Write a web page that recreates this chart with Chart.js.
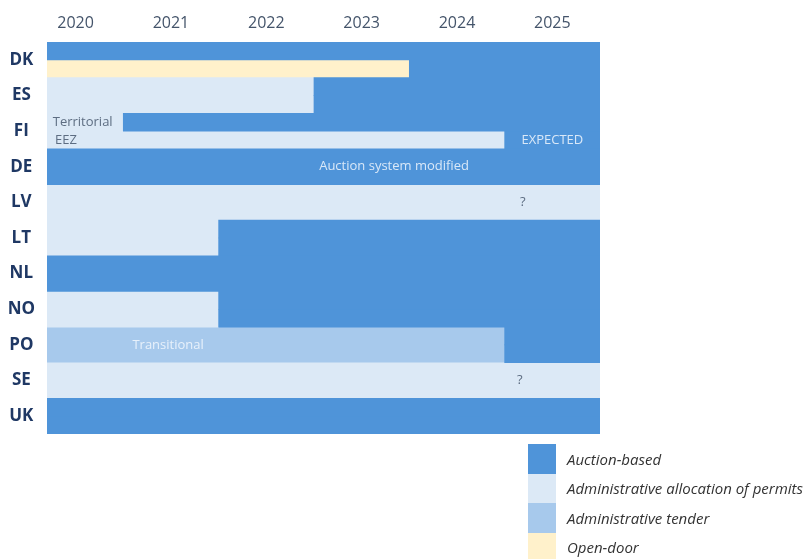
<!DOCTYPE html>
<html>
<head>
<meta charset="utf-8">
<script src="https://cdn.jsdelivr.net/npm/chart.js@4.4.0/dist/chart.umd.min.js"></script>
<style>
  html, body { margin: 0; padding: 0; background: #fff; }
  #wrap { position: relative; width: 804px; height: 559px; overflow: hidden; }
  #legend {
    position: absolute; left: 528px; top: 444px; white-space: nowrap;
    font-family: 'Open Sans', sans-serif; font-style: italic; font-size: 15px; color: #333;
  }
  .item { display: flex; align-items: center; height: 29.5px; }
  .sw { width: 28px; height: 29.5px; margin-right: 11px; flex: none; }
</style>
</head>
<body>
<div id="wrap">
  <canvas id="chart" width="804" height="559"></canvas>
  <div id="legend"></div>
</div>
<script>
// timeline runs a bit before 2020 and ends mid 2025
const S = 2019.7;
const E = 2025.5;

const countries = ['DK', 'ES', 'FI', 'DE', 'LV', 'LT', 'NL', 'NO', 'PO', 'SE', 'UK'];
const years = [2020, 2021, 2022, 2023, 2024, 2025];

// each row has a top and a bottom half (DK and FI differ between them)
const auctionTop    = [[S, E], [2022.5, E], [2020.5, E], [S, E], null, [2021.5, E], [S, E], [2021.5, E], [2024.5, E], null, [S, E]];
const auctionBottom = [[2023.5, E], [2022.5, E], [2024.5, E], [S, E], null, [2021.5, E], [S, E], [2021.5, E], [2024.5, E], null, [S, E]];
const adminTop      = [null, [S, 2022.5], [S, 2020.5], null, [S, E], [S, 2021.5], null, [S, 2021.5], null, [S, E], null];
const adminBottom   = [null, [S, 2022.5], [S, 2024.5], null, [S, E], [S, 2021.5], null, [S, 2021.5], null, [S, E], null];
const tenderTop     = [null, null, null, null, null, null, null, null, [S, 2024.5], null, null];
const tenderBottom  = [null, null, null, null, null, null, null, null, [S, 2024.5], null, null];
const openTop       = [null, null, null, null, null, null, null, null, null, null, null];
const openBottom    = [[S, 2023.5], null, null, null, null, null, null, null, null, null, null];

const seriesNames = ['Auction-based', 'Administrative allocation of permits', 'Administrative tender', 'Open-door'];
const seriesColors = ['#4f94d9', '#dce9f6', '#a7c9ec', '#fff1cb'];

const notes = [
  { text: 'Territorial', year: 2019.76, row: 'FI', half: -1, align: 'left', color: '#5d6d82' },
  { text: 'EEZ', year: 2019.785, row: 'FI', half: 1, align: 'left', color: '#5d6d82' },
  { text: 'EXPECTED', year: 2025.0, row: 'FI', half: 1, align: 'center', color: '#d9e8f8' },
  { text: 'Auction system modified', year: 2023.34, row: 'DE', half: 0, align: 'center', color: '#d9e8f8' },
  { text: '?', year: 2024.69, row: 'LV', half: 0, align: 'center', color: '#5d6d82' },
  { text: '?', year: 2024.66, row: 'SE', half: 0, align: 'center', color: '#5d6d82' },
  { text: 'Transitional', year: 2020.97, row: 'PO', half: 0, align: 'center', color: '#e8f1fb' }
];

function ds(data, series, stack) {
  return {
    label: seriesNames[series],
    data: data,
    stack: stack,
    backgroundColor: seriesColors[series],
    borderWidth: 0,
    categoryPercentage: 1,
    barPercentage: 1
  };
}

const notesPlugin = {
  id: 'notes',
  afterDatasetsDraw(chart) {
    const ctx = chart.ctx;
    const xs = chart.scales.x, ys = chart.scales.y;
    const rowH = ys.getPixelForValue(1) - ys.getPixelForValue(0);
    ctx.save();
    ctx.font = '13px "Open Sans", sans-serif';
    ctx.textBaseline = 'middle';
    notes.forEach(n => {
      const x = xs.getPixelForValue(n.year);
      const y = ys.getPixelForValue(countries.indexOf(n.row)) + n.half * rowH / 4;
      ctx.fillStyle = n.color;
      ctx.textAlign = n.align;
      ctx.fillText(n.text, x, y);
    });
    ctx.restore();
  }
};

const ctx = document.getElementById('chart').getContext('2d');
new Chart(ctx, {
  type: 'bar',
  data: {
    labels: countries,
    datasets: [
      ds(auctionTop, 0, 'top'), ds(auctionBottom, 0, 'bottom'),
      ds(adminTop, 1, 'top'), ds(adminBottom, 1, 'bottom'),
      ds(tenderTop, 2, 'top'), ds(tenderBottom, 2, 'bottom'),
      ds(openTop, 3, 'top'), ds(openBottom, 3, 'bottom')
    ]
  },
  plugins: [notesPlugin],
  options: {
    indexAxis: 'y',
    responsive: false,
    animation: false,
    layout: { padding: { right: 204, bottom: 125 } },
    plugins: { legend: { display: false }, tooltip: { enabled: false } },
    scales: {
      x: {
        type: 'linear',
        position: 'top',
        min: S,
        max: E,
        stacked: false,
        grid: { display: false, drawTicks: false },
        border: { display: false },
        afterFit: s => { s.height = 42; },
        afterBuildTicks: s => { s.ticks = years.map(v => ({ value: v })); },
        ticks: {
          padding: 9,
          color: '#44546a',
          font: { family: 'Open Sans', size: 16 },
          callback: v => String(v)
        }
      },
      y: {
        stacked: true,
        grid: { display: false, drawTicks: false },
        border: { display: false },
        afterFit: s => { s.width = 47; },
        ticks: {
          crossAlign: 'center',
          padding: 12,
          color: '#1f3864',
          font: { family: 'Open Sans', size: 17, weight: 'bold' }
        }
      }
    }
  }
});

// legend
const legend = document.getElementById('legend');
seriesNames.forEach((name, i) => {
  const item = document.createElement('div');
  item.className = 'item';
  const sw = document.createElement('div');
  sw.className = 'sw';
  sw.style.background = seriesColors[i];
  const label = document.createElement('span');
  label.textContent = name;
  item.appendChild(sw);
  item.appendChild(label);
  legend.appendChild(item);
});
</script>
</body>
</html>
